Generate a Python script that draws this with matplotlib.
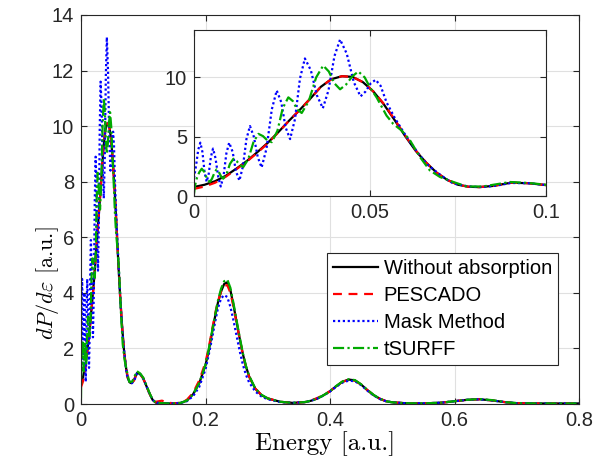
import matplotlib
matplotlib.use("Agg")
import matplotlib.pyplot as plt

plt.rcParams['font.family'] = ['Liberation Sans', 'DejaVu Sans']
plt.rcParams['mathtext.fontset'] = 'cm'

# energies beyond the inset range, shared by all four curves
tail_e = [0.105, 0.11, 0.115, 0.12, 0.13, 0.14, 0.15, 0.16, 0.17, 0.18, 0.19, 0.2,
          0.205, 0.21, 0.215, 0.22, 0.225, 0.23, 0.235, 0.24, 0.245, 0.25, 0.255,
          0.26, 0.265, 0.27, 0.28, 0.29, 0.30, 0.32, 0.34, 0.36, 0.37, 0.38, 0.39,
          0.40, 0.41, 0.42, 0.43, 0.44, 0.45, 0.46, 0.47, 0.48, 0.49, 0.50, 0.52,
          0.55, 0.58, 0.60, 0.62, 0.64, 0.66, 0.68, 0.70, 0.73, 0.76, 0.80]

# without absorption
ref_e = [0, 0.003, 0.006, 0.009, 0.012, 0.015, 0.018, 0.021, 0.024, 0.027, 0.030,
         0.033, 0.036, 0.039, 0.042, 0.045, 0.048, 0.051, 0.054, 0.057, 0.060,
         0.063, 0.066, 0.069, 0.072, 0.075, 0.078, 0.081, 0.085, 0.090, 0.095, 0.100]
ref_p = [0.76, 0.95, 1.25, 1.7, 2.3, 2.95, 3.7, 4.5, 5.4, 6.35, 7.25,
         8.2, 9.2, 9.85, 10.1, 10.05, 9.6, 8.8, 7.7, 6.4, 5.05,
         3.8, 2.8, 1.95, 1.35, 0.95, 0.78, 0.75, 0.85, 1.12, 1.08, 0.92]
ref_tail = [0.65, 0.38, 0.15, 0.05, 0.03, 0.02, 0.02, 0.04, 0.12, 0.35, 0.75, 1.4,
            1.9, 2.5, 3.1, 3.65, 4.05, 4.32, 4.38, 4.1, 3.55, 2.95, 2.35,
            1.8, 1.35, 1.0, 0.55, 0.32, 0.2, 0.08, 0.04, 0.07, 0.12, 0.2, 0.32,
            0.46, 0.64, 0.8, 0.88, 0.85, 0.7, 0.5, 0.32, 0.19, 0.1, 0.06, 0.03,
            0.02, 0.05, 0.1, 0.15, 0.17, 0.13, 0.07, 0.03, 0.02, 0.02, 0.02]

# PESCADO
pes_e = ref_e
pes_p = [0.6, 0.8, 1.12, 1.62, 2.25, 2.9, 3.65, 4.45, 5.38, 6.35, 7.25,
         8.2, 9.2, 9.85, 10.1, 10.05, 9.6, 8.8, 7.75, 6.45, 5.1,
         3.85, 2.8, 1.95, 1.35, 0.95, 0.78, 0.75, 0.85, 1.12, 1.08, 0.92]
pes_tail = [0.65, 0.38, 0.15, 0.08, 0.12, 0.05, 0.02, 0.05, 0.15, 0.4, 0.85, 1.5,
            2.0, 2.6, 3.2, 3.7, 4.05, 4.25, 4.28, 4.0, 3.5, 2.9, 2.32,
            1.78, 1.33, 0.98, 0.55, 0.32, 0.2, 0.08, 0.04, 0.07, 0.13, 0.22, 0.33,
            0.46, 0.64, 0.8, 0.87, 0.84, 0.7, 0.5, 0.32, 0.19, 0.1, 0.06, 0.03,
            0.02, 0.05, 0.1, 0.15, 0.17, 0.13, 0.07, 0.03, 0.02, 0.02, 0.02]

# mask method
mask_e = [0, 0.0006, 0.0012, 0.0018, 0.0024, 0.0030, 0.0036, 0.0042, 0.0048, 0.0054,
          0.0061, 0.0069, 0.0076, 0.0084, 0.0092, 0.0100, 0.0110, 0.0119, 0.0129,
          0.0139, 0.0149, 0.0159, 0.0170, 0.0181, 0.0192, 0.0206, 0.0221, 0.0235,
          0.0248, 0.0260, 0.0273, 0.0287, 0.0301, 0.0315, 0.0332, 0.0349, 0.0366,
          0.0382, 0.0399, 0.0415, 0.0434, 0.0454, 0.0473, 0.0487, 0.0502, 0.0516,
          0.0530, 0.0547, 0.0570, 0.0595, 0.0620, 0.0642, 0.0665, 0.0690, 0.0715,
          0.0737, 0.078, 0.082, 0.086, 0.090, 0.095, 0.100]
mask_p = [1.5, 2.6, 3.9, 4.5, 3.7, 2.0, 1.2, 1.9, 3.3, 4.0,
          3.2, 1.6, 0.8, 1.7, 3.6, 4.5, 3.7, 2.1, 1.3,
          2.5, 4.8, 5.9, 5.0, 3.3, 2.4, 4.0, 7.3, 8.9,
          7.9, 5.8, 4.8, 6.5, 9.9, 11.6, 10.6, 8.5, 7.4,
          8.9, 11.8, 13.2, 12.0, 9.6, 8.4, 8.8, 9.5, 9.8,
          9.3, 7.9, 6.6, 5.4, 4.3, 3.4, 2.6, 2.0, 1.45,
          1.05, 0.8, 0.75, 0.88, 1.1, 1.08, 0.92]
mask_tail = [0.65, 0.38, 0.15, 0.05, 0.03, 0.02, 0.02, 0.04, 0.1, 0.28, 0.62, 1.25,
             1.75, 2.3, 2.9, 3.45, 3.8, 3.92, 3.85, 3.5, 3.0, 2.45, 1.9,
             1.42, 1.05, 0.78, 0.45, 0.27, 0.17, 0.07, 0.04, 0.07, 0.12, 0.2, 0.31,
             0.45, 0.62, 0.77, 0.84, 0.82, 0.68, 0.48, 0.31, 0.18, 0.1, 0.06, 0.03,
             0.02, 0.05, 0.1, 0.15, 0.17, 0.13, 0.07, 0.03, 0.02, 0.02, 0.02]

# tSURFF
tsurff_e = [0, 0.0003, 0.0008, 0.0015, 0.0022, 0.0030, 0.0037, 0.0045, 0.0051, 0.0058,
            0.0064, 0.0070, 0.0077, 0.0083, 0.0093, 0.0102, 0.0112, 0.0121, 0.0131,
            0.0140, 0.0154, 0.0169, 0.0183, 0.0196, 0.0208, 0.0221, 0.0237, 0.0252,
            0.0268, 0.0281, 0.0293, 0.0306, 0.0326, 0.0347, 0.0367, 0.0383, 0.0399,
            0.0415, 0.0432, 0.0450, 0.0467, 0.0485, 0.0500, 0.0519, 0.0547, 0.0566,
            0.0590, 0.0614, 0.0642, 0.0670, 0.0699, 0.0737, 0.0775, 0.082, 0.0898,
            0.095, 0.100]
tsurff_p = [0.2, 0.9, 1.5, 2.0, 2.3, 2.0, 1.45, 1.18, 1.45, 1.95,
            2.24, 2.05, 1.65, 1.46, 1.9, 2.7, 3.14, 2.95, 2.6,
            2.44, 3.1, 4.55, 5.24, 5.05, 4.7, 4.54, 5.5, 7.4,
            8.32, 8.0, 7.3, 7.0, 8.0, 10.0, 11.0, 10.5, 9.5,
            9.0, 9.4, 10.1, 10.5, 10.0, 9.16, 8.3, 6.78, 6.08,
            5.52, 4.68, 3.28, 2.16, 1.6, 1.18, 0.8, 0.8, 1.18,
            1.1, 0.95]
tsurff_tail = [0.68, 0.4, 0.16, 0.05, 0.03, 0.02, 0.02, 0.04, 0.12, 0.35, 0.76, 1.42,
               1.95, 2.55, 3.15, 3.72, 4.15, 4.42, 4.48, 4.18, 3.62, 3.0, 2.4,
               1.83, 1.37, 1.02, 0.56, 0.33, 0.2, 0.08, 0.04, 0.07, 0.12, 0.2, 0.32,
               0.46, 0.65, 0.81, 0.89, 0.86, 0.71, 0.51, 0.33, 0.19, 0.1, 0.06, 0.03,
               0.02, 0.05, 0.1, 0.15, 0.18, 0.14, 0.07, 0.03, 0.02, 0.02, 0.02]

labels = ["Without absorption", "PESCADO", "Mask Method", "tSURFF"]

curves = [
    (ref_e + tail_e, ref_p + ref_tail, dict(color="black", linestyle="-")),
    (pes_e + tail_e, pes_p + pes_tail, dict(color="red", linestyle=(0, (4, 3)))),
    (mask_e + tail_e, mask_p + mask_tail, dict(color="blue", linestyle=(0, (1, 1.2)))),
    (tsurff_e + tail_e, tsurff_p + tsurff_tail, dict(color="#00aa00", linestyle=(0, (5, 1.5, 1, 1.5)))),
]

axcol = (0.15, 0.15, 0.15)


def style(ax):
    ax.grid(True, color=(0.88, 0.88, 0.88), linewidth=0.8)
    ax.set_axisbelow(True)
    ax.tick_params(direction="in", top=True, right=True, length=4, width=0.8,
                   colors=axcol, labelsize=14.5, pad=5)
    for s in ax.spines.values():
        s.set_color(axcol)
        s.set_linewidth(0.8)


fig = plt.figure(figsize=(5.95, 4.67), dpi=100)
ax = fig.add_axes([81 / 595, 63 / 467, 498 / 595, 389 / 467])
for (x, y, kw), lab in zip(curves, labels):
    ax.plot(x, y, linewidth=1.6, label=lab, **kw)
ax.set_xlim(0, 0.8)
ax.set_ylim(0, 14)
ax.set_xticks([0, 0.2, 0.4, 0.6, 0.8])
ax.set_xticklabels(["0", "0.2", "0.4", "0.6", "0.8"])
ax.set_yticks(range(0, 15, 2))
style(ax)
ax.set_xlabel("Energy [a.u.]", fontname="cmr10", fontsize=18, labelpad=2)
ax.set_ylabel(r"$dP/d\varepsilon$ [a.u.]", fontname="cmr10", fontsize=16)
ax.xaxis.set_label_coords(0.49, -0.07)
ax.yaxis.set_label_coords(-0.04, 0.31)

leg = ax.legend(loc="lower right", bbox_to_anchor=(0.958, 0.100), borderaxespad=0,
                fontsize=14.5, fancybox=False, framealpha=1, handlelength=2.2,
                handletextpad=0.3, labelspacing=0.4, borderpad=0.3)
leg.get_frame().set_edgecolor(axcol)
leg.get_frame().set_linewidth(0.8)

ins = fig.add_axes([194 / 595, 271 / 467, 352 / 595, 166 / 467])
for x, y, kw in curves:
    ins.plot(x, y, linewidth=1.6, **kw)
ins.set_xlim(0, 0.1)
ins.set_ylim(0, 14)
ins.set_xticks([0, 0.05, 0.1])
ins.set_xticklabels(["0", "0.05", "0.1"])
ins.set_yticks([0, 5, 10])
style(ins)

fig.savefig("out.png", dpi=100)
